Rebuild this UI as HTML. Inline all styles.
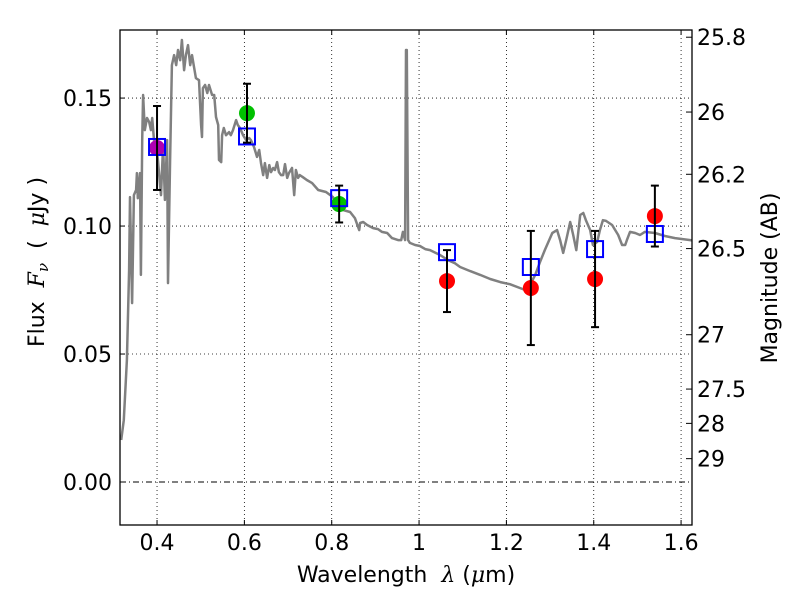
<!DOCTYPE html>
<html><head><meta charset="utf-8">
<style>
html,body{margin:0;padding:0;background:#fff;width:800px;height:600px;overflow:hidden}
svg text{font-family:"DejaVu Sans","Liberation Sans",sans-serif;fill:#000;white-space:pre}
</style></head>
<body>
<svg id="chart" width="800" height="600" viewBox="0 0 800 600" xmlns="http://www.w3.org/2000/svg">
<defs><clipPath id="clip"><rect x="120" y="30" width="572" height="495"/></clipPath></defs>
<rect x="0" y="0" width="800" height="600" fill="#fff"/>
<g id="grid"></g>
<g id="spec" clip-path="url(#clip)"></g>
<g id="marks"></g>
<rect x="120" y="30" width="572" height="495" fill="none" stroke="#000" stroke-width="1.3"/>
<g id="axes"></g>
<text transform="translate(44,262) rotate(-90)" text-anchor="middle" font-size="22" xml:space="preserve">Flux  <tspan font-style="italic" font-family="DejaVu Serif">F</tspan><tspan font-size="15" dy="4" font-style="italic" font-family="DejaVu Serif">ν</tspan><tspan dy="-4">  (  </tspan><tspan font-style="italic" font-family="DejaVu Serif">μ</tspan>Jy )</text>
<text transform="translate(777,278) rotate(-90)" text-anchor="middle" font-size="22">Magnitude (AB)</text>
<text x="406" y="582" text-anchor="middle" font-size="22" xml:space="preserve">Wavelength  <tspan font-style="italic" font-family="DejaVu Serif">λ</tspan> (<tspan font-style="italic" font-family="DejaVu Serif">μ</tspan>m)</text>
</svg>
<script>
const xTicks=[0.4,0.6,0.8,1.0,1.2,1.4,1.6];
const xTickLabels=["0.4","0.6","0.8","1","1.2","1.4","1.6"];
const yTicks=[0.00,0.05,0.10,0.15];
const yTickLabels=["0.00","0.05","0.10","0.15"];
const magTicks=[25.8,26,26.2,26.5,27,27.5,28,29];
const magTickLabels=["25.8","26","26.2","26.5","27","27.5","28","29"];
const specWl=[0.318,0.324,0.331,0.336,0.338,0.343,0.347,0.352,0.354,0.356,0.361,0.363,0.366,0.368,0.372,0.377,0.382,0.386,0.389,0.393,0.398,0.402,0.409,0.414,0.418,0.423,0.425,0.430,0.434,0.439,0.444,0.448,0.453,0.457,0.462,0.466,0.471,0.476,0.480,0.485,0.489,0.496,0.501,0.503,0.505,0.510,0.515,0.519,0.526,0.531,0.535,0.540,0.542,0.547,0.549,0.553,0.558,0.565,0.569,0.574,0.581,0.585,0.590,0.597,0.604,0.611,0.615,0.622,0.629,0.634,0.638,0.643,0.647,0.652,0.657,0.661,0.666,0.670,0.675,0.679,0.684,0.689,0.693,0.698,0.702,0.709,0.714,0.718,0.723,0.727,0.734,0.743,0.755,0.769,0.778,0.787,0.803,0.819,0.842,0.853,0.863,0.865,0.872,0.881,0.895,0.906,0.915,0.927,0.938,0.952,0.959,0.963,0.968,0.970,0.972,0.975,0.979,0.991,1.002,1.014,1.025,1.048,1.066,1.082,1.094,1.117,1.140,1.163,1.186,1.208,1.231,1.243,1.254,1.266,1.277,1.288,1.305,1.316,1.323,1.330,1.337,1.346,1.353,1.360,1.369,1.376,1.382,1.392,1.398,1.408,1.414,1.421,1.428,1.442,1.456,1.465,1.472,1.476,1.483,1.495,1.506,1.517,1.540,1.563,1.586,1.621,1.640];
const specFlux=[0.0164,0.0242,0.0477,0.0828,0.1113,0.0699,0.1121,0.1141,0.1207,0.1109,0.1207,0.0809,0.1336,0.1512,0.1375,0.1422,0.1406,0.1375,0.1422,0.1336,0.1316,0.1258,0.1121,0.1316,0.1102,0.1336,0.0777,0.1258,0.1629,0.1668,0.1629,0.1688,0.1648,0.1727,0.1609,0.1668,0.1707,0.1629,0.1668,0.1617,0.1578,0.1570,0.1395,0.1348,0.1539,0.1551,0.1520,0.1551,0.1512,0.1512,0.1426,0.1395,0.1258,0.1250,0.1355,0.1383,0.1355,0.1367,0.1355,0.1375,0.1414,0.1395,0.1383,0.1355,0.1336,0.1344,0.1336,0.1309,0.1270,0.1297,0.1246,0.1199,0.1246,0.1188,0.1238,0.1211,0.1227,0.1219,0.1250,0.1211,0.1199,0.1199,0.1242,0.1188,0.1207,0.1227,0.1121,0.1219,0.1188,0.1199,0.1191,0.1180,0.1168,0.1141,0.1137,0.1133,0.1113,0.1066,0.1055,0.1031,0.0984,0.1012,0.1016,0.1004,0.0992,0.0988,0.0977,0.0973,0.0953,0.0945,0.0945,0.0977,0.0945,0.1688,0.1688,0.0945,0.0934,0.0926,0.0922,0.0910,0.0906,0.0887,0.0867,0.0855,0.0840,0.0824,0.0809,0.0793,0.0781,0.0773,0.0758,0.0750,0.0770,0.0809,0.0859,0.0906,0.0973,0.0984,0.0945,0.0895,0.0945,0.1016,0.0965,0.0906,0.1043,0.1051,0.1023,0.0984,0.0926,0.0938,0.0984,0.1023,0.1020,0.1004,0.0965,0.0926,0.0926,0.0945,0.0977,0.0973,0.0965,0.0977,0.0973,0.0961,0.0953,0.0945,0.0940];
const obsWl=[0.400,0.606,0.817,1.064,1.256,1.403,1.540];
const obsFlux=[0.1305,0.1441,0.1086,0.0785,0.0758,0.0793,0.1039];
const obsErr=[0.0164,0.0115,0.0072,0.0121,0.0223,0.0188,0.0119];
const obsColor=["#b000b0","#00c000","#00c000","#ff0000","#ff0000","#ff0000","#ff0000"];
const modelFlux=[0.1309,0.1350,0.1109,0.0898,0.0840,0.0910,0.0969];

const X0=120,X1=692,Y0=30,Y1=525,XMIN=0.3152,XMAX=1.625,YMIN=-0.0168,YMAX=0.1766;
const sx=v=>X0+(v-XMIN)/(XMAX-XMIN)*(X1-X0);
const sy=v=>Y1-(v-YMIN)/(YMAX-YMIN)*(Y1-Y0);
const NS="http://www.w3.org/2000/svg";
function mk(parent,tag,attrs){const e=document.createElementNS(NS,tag);for(const k in attrs)e.setAttribute(k,attrs[k]);parent.appendChild(e);return e;}
const grid=document.getElementById('grid'),axes=document.getElementById('axes'),spec=document.getElementById('spec'),marks=document.getElementById('marks');

xTicks.forEach((t,i)=>{const x=sx(t);
 let g=mk(grid,'line',{x1:x,x2:x,y1:Y0,y2:Y1,stroke:'#000','stroke-width':0.8,'stroke-dasharray':'1,3'});
 
 
 mk(axes,'line',{x1:x,x2:x,y1:Y1,y2:Y1-5,stroke:'#000'});
 mk(axes,'line',{x1:x,x2:x,y1:Y0,y2:Y0+5,stroke:'#000'});
 let tx=mk(axes,'text',{x:x,y:Y1+25,'text-anchor':'middle','font-size':22});tx.textContent=xTickLabels[i];
 
 
});
yTicks.forEach((t,i)=>{const y=sy(t);
 let g=mk(grid,'line',{x1:X0,x2:X1,y1:y,y2:y,stroke:'#000','stroke-width':t===0?1:0.8,'stroke-dasharray':t===0?'6,3,1,3':'1,3'});
 
 
 mk(axes,'line',{x1:X0,x2:X0+5,y1:y,y2:y,stroke:'#000'});
 let tx=mk(axes,'text',{x:X0-8,y:y+8,'text-anchor':'end','font-size':22});tx.textContent=yTickLabels[i];
 
 
});
magTicks.forEach((m,i)=>{const f=Math.pow(10,(23.9-m)/2.5);const y=sy(f);
 mk(axes,'line',{x1:X1,x2:X1-6,y1:y,y2:y,stroke:'#000'});
 let tx=mk(axes,'text',{x:X1+5,y:y+8,'font-size':22});tx.textContent=magTickLabels[i];
 
 
});
let d=specWl.map((w,i)=>(i?'L':'M')+sx(w).toFixed(1)+','+sy(specFlux[i]).toFixed(1)).join('');
let sp=mk(spec,'path',{d:d,fill:'none',stroke:'#808080','stroke-width':2.5,'stroke-linejoin':'round'});



obsWl.forEach((w,i)=>{const x=sx(w);
 const yt=sy(obsFlux[i]+obsErr[i]),yb=sy(obsFlux[i]-obsErr[i]);
 let c=mk(marks,'circle',{cx:x,cy:sy(obsFlux[i]),r:8,fill:obsColor[i]});
 
 
 let r=mk(marks,'rect',{x:x-8,y:sy(modelFlux[i])-8,width:16,height:16,fill:'none',stroke:'#0000ff','stroke-width':2});
 
 
 let e=mk(marks,'g',{stroke:'#000','stroke-width':2});
 
 
 mk(e,'line',{x1:x,x2:x,y1:yt,y2:yb});
 mk(e,'line',{x1:x-4,x2:x+4,y1:yt,y2:yt});
 mk(e,'line',{x1:x-4,x2:x+4,y1:yb,y2:yb});
});
</script>
</body></html>
